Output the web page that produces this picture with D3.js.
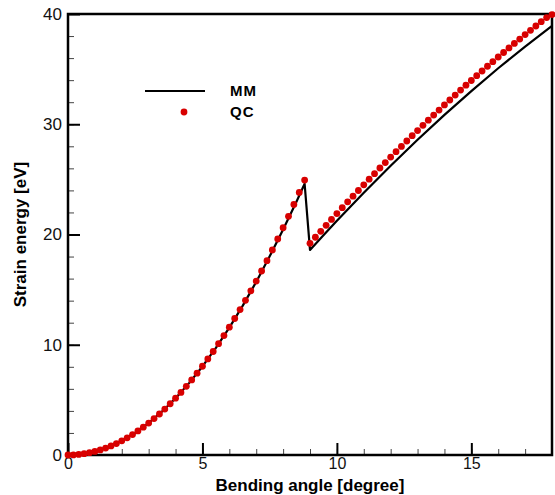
<!DOCTYPE html>
<html>
<head>
<meta charset="utf-8">
<script src="https://cdn.jsdelivr.net/npm/d3@7"></script>
<style>
  body { margin: 0; background: #fff; }
  text { font-family: Arial, "Liberation Sans", sans-serif; }
</style>
</head>
<body>
<div id="chart"></div>
<script>
// QC points (0.2 degree steps), first branch up to the peak
const qcAngle1 = [0, 0.2, 0.4, 0.6, 0.8, 1.0, 1.2, 1.4, 1.6, 1.8, 2.0, 2.2, 2.4, 2.6, 2.8, 3.0,
  3.2, 3.4, 3.6, 3.8, 4.0, 4.2, 4.4, 4.6, 4.8, 5.0, 5.2, 5.4, 5.6, 5.8, 6.0, 6.2, 6.4, 6.6,
  6.8, 7.0, 7.2, 7.4, 7.6, 7.8, 8.0, 8.2, 8.4, 8.6, 8.8];
const qcEnergy1 = [0, 0.01, 0.05, 0.12, 0.21, 0.32, 0.46, 0.63, 0.82, 1.04, 1.29, 1.56, 1.85,
  2.18, 2.52, 2.90, 3.30, 3.72, 4.17, 4.65, 5.15, 5.68, 6.23, 6.81, 7.42, 8.05, 8.71, 9.39,
  10.10, 10.83, 11.59, 12.38, 13.19, 14.03, 14.89, 15.78, 16.69, 17.63, 18.60, 19.59, 20.61,
  21.65, 22.72, 23.82, 24.94];
// QC points after the drop
const qcAngle2 = [9.0, 9.2, 9.4, 9.6, 9.8, 10.0, 10.2, 10.4, 10.6, 10.8, 11.0, 11.2, 11.4, 11.6,
  11.8, 12.0, 12.2, 12.4, 12.6, 12.8, 13.0, 13.2, 13.4, 13.6, 13.8, 14.0, 14.2, 14.4, 14.6,
  14.8, 15.0, 15.2, 15.4, 15.6, 15.8, 16.0, 16.2, 16.4, 16.6, 16.8, 17.0, 17.2, 17.4, 17.6,
  17.8, 18.0];
const qcEnergy2 = [19.20, 19.75, 20.29, 20.83, 21.37, 21.90, 22.43, 22.96, 23.48, 23.99, 24.51,
  25.02, 25.52, 26.03, 26.52, 27.02, 27.51, 27.99, 28.48, 28.96, 29.43, 29.90, 30.37, 30.83,
  31.29, 31.75, 32.20, 32.65, 33.10, 33.54, 33.97, 34.41, 34.83, 35.26, 35.68, 36.10, 36.51,
  36.92, 37.33, 37.73, 38.13, 38.52, 38.91, 39.30, 39.68, 39.95];

// MM line
const mmAngle = [0, 0.5, 1, 1.5, 2, 2.5, 3, 3.5, 4, 4.5, 5, 5.5, 6, 6.5, 7, 7.5, 8, 8.5, 8.8,
  9.0, 9.5, 10, 10.5, 11, 12, 13, 14, 15, 16, 17, 18];
const mmEnergy = [0, 0.08, 0.32, 0.72, 1.29, 2.01, 2.90, 3.95, 5.15, 6.52, 8.03, 9.72, 11.55,
  13.55, 15.70, 18.02, 20.45, 23.00, 24.60, 18.60, 19.93, 21.24, 22.52, 23.79, 26.24, 28.59,
  30.85, 33.01, 35.08, 37.05, 38.92];

const xTicks = [0, 5, 10, 15];
const yTicks = [0, 10, 20, 30, 40];

const width = 555, height = 495;
const margin = { top: 14, right: 3, bottom: 40, left: 68 };

const svg = d3.select("#chart").append("svg")
  .attr("width", width)
  .attr("height", height);

const x = d3.scaleLinear().domain([0, 18]).range([margin.left, width - margin.right]);
const y = d3.scaleLinear().domain([0, 40]).range([height - margin.bottom, margin.top]);

// minor ticks
svg.append("g")
  .attr("transform", `translate(0,${y(0)})`)
  .call(d3.axisBottom(x).tickValues(d3.range(0, 19, 1)).tickSize(-6).tickFormat(""))
  .call(g => g.select(".domain").remove())
  .call(g => g.selectAll("line").attr("stroke", "#444").attr("stroke-width", 1));
svg.append("g")
  .attr("transform", `translate(${x(0)},0)`)
  .call(d3.axisLeft(y).tickValues(d3.range(0, 41, 2)).tickSize(-6).tickFormat(""))
  .call(g => g.select(".domain").remove())
  .call(g => g.selectAll("line").attr("stroke", "#444").attr("stroke-width", 1));

// major ticks + labels
svg.append("g")
  .attr("transform", `translate(0,${y(0)})`)
  .call(d3.axisBottom(x).tickValues(xTicks).tickSize(-12).tickPadding(3).tickFormat(d3.format("d")))
  .call(g => g.select(".domain").remove())
  .call(g => g.selectAll("line").attr("stroke", "#000").attr("stroke-width", 2))
  .call(g => g.selectAll("text").attr("font-size", 16).attr("fill", "#111"));
svg.append("g")
  .attr("transform", `translate(${x(0)},0)`)
  .call(d3.axisLeft(y).tickValues(yTicks).tickSize(-12).tickPadding(6).tickFormat(d3.format("d")))
  .call(g => g.select(".domain").remove())
  .call(g => g.selectAll("line").attr("stroke", "#000").attr("stroke-width", 2))
  .call(g => g.selectAll("text").attr("font-size", 17).attr("fill", "#111"));

// frame
svg.append("rect")
  .attr("x", x(0)).attr("y", y(40))
  .attr("width", x(18) - x(0)).attr("height", y(0) - y(40))
  .attr("fill", "none").attr("stroke", "#000").attr("stroke-width", 2.5);

// MM line
const mmData = mmAngle.map((a, i) => [a, mmEnergy[i]]);
svg.append("path")
  .datum(mmData)
  .attr("fill", "none")
  .attr("stroke", "#000")
  .attr("stroke-width", 2.2)
  .attr("stroke-linejoin", "round")
  .attr("d", d3.line().x(d => x(d[0])).y(d => y(d[1])));

// QC points
const qcData = qcAngle1.map((a, i) => [a, qcEnergy1[i]])
  .concat(qcAngle2.map((a, i) => [a, qcEnergy2[i]]));
svg.append("g")
  .selectAll("circle")
  .data(qcData)
  .join("circle")
  .attr("cx", d => x(d[0]))
  .attr("cy", d => y(d[1]))
  .attr("r", 3.4)
  .attr("fill", "#d80000");

// legend
const leg = svg.append("g");
leg.append("line")
  .attr("x1", 145).attr("x2", 205).attr("y1", 91).attr("y2", 91)
  .attr("stroke", "#000").attr("stroke-width", 2.2);
leg.append("text").attr("x", 230).attr("y", 96)
  .attr("font-size", 15).attr("font-weight", "bold").attr("letter-spacing", 1).text("MM");
leg.append("circle").attr("cx", 184).attr("cy", 112).attr("r", 3.4).attr("fill", "#d80000");
leg.append("text").attr("x", 230).attr("y", 117)
  .attr("font-size", 15).attr("font-weight", "bold").attr("letter-spacing", 1).text("QC");

// axis titles
svg.append("text")
  .attr("x", (x(0) + x(18)) / 2).attr("y", 491)
  .attr("text-anchor", "middle")
  .attr("font-size", 17).attr("font-weight", "bold")
  .text("Bending angle [degree]");
svg.append("text")
  .attr("transform", `translate(26,${(y(0) + y(40)) / 2}) rotate(-90)`)
  .attr("text-anchor", "middle")
  .attr("font-size", 17).attr("font-weight", "bold")
  .text("Strain energy [eV]");
</script>
</body>
</html>
